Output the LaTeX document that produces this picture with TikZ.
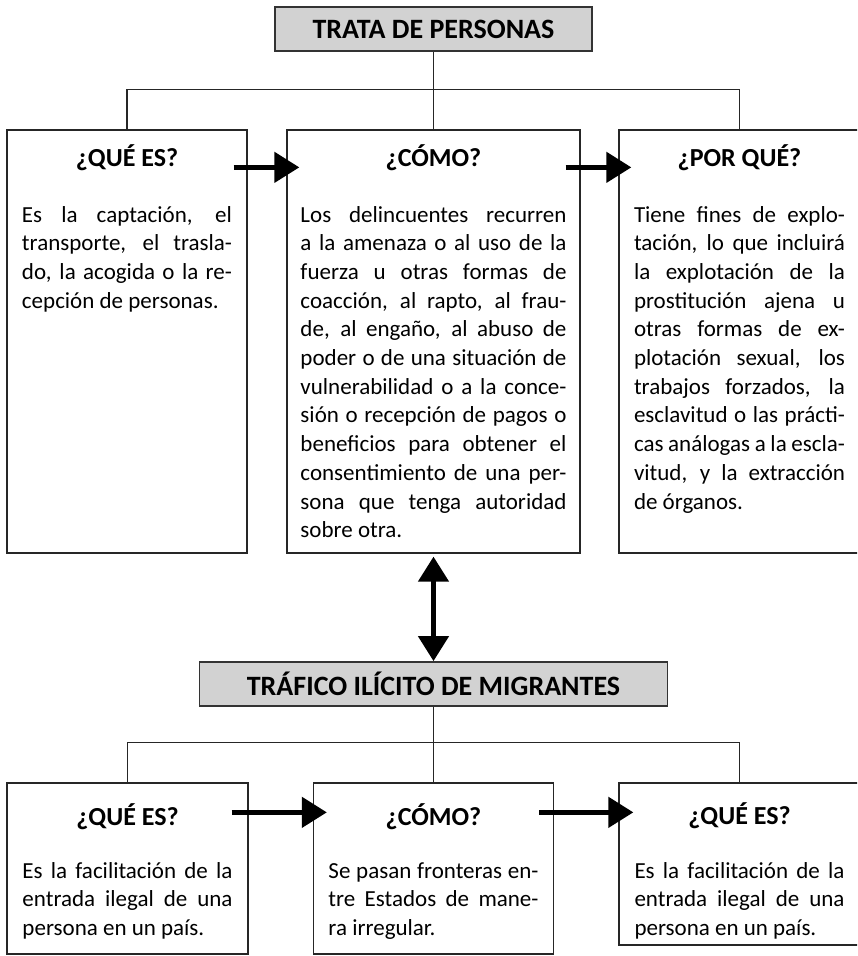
\documentclass[tikz,border=0pt]{standalone}
\usepackage{fontspec}
\setmainfont{Carlito}
\usetikzlibrary{calc, arrows.meta, positioning}
\tolerance=10000
\tikzset{
    shapenode/.style = {draw=black!85, line width=1.3pt, rectangle, fill=none, node distance=0em, inner sep=0em},
    titlenode/.style = {draw=black!80, line width=1.8pt, rectangle, fill=gray!35, node distance=0em,
      inner sep=0em, font=\fontsize{28}{32}\bfseries},
    textnode/.style  = {draw=none, fill=none, rectangle, inner sep=0em, node distance=0em, font=\fontsize{26}{30}\bfseries},
    bodynode/.style  = {draw=none, fill=none, inner sep=0em, align=justify,
      font=\fontsize{23}{28.7}\selectfont},
    connect/.style = {black!85, line width=1.2pt},
    bigarrow/.style = {black, line width=4.7pt, -{Triangle[length=25pt, width=30pt]}},
    dblarrow/.style = {black, line width=4.7pt, {Triangle[length=25pt, width=30pt]}-{Triangle[length=25pt, width=30pt]}}
}
\begin{document}
\begin{tikzpicture}[x=1pt, y=1pt]
    \clip (-433.5,29) rectangle (423.5,-927);

    \node [titlenode, name=Trata, minimum width=317pt, minimum height=44pt] {TRATA DE PERSONAS};

    \node [shapenode, name=QueEs, below of=Trata, xshift=-306.5pt, yshift=-312.5pt, minimum width=240pt, minimum height=423pt] {};
    \node [shapenode, name=Como, below of=Trata, yshift=-312.5pt, minimum width=293pt, minimum height=423pt] {};
    \node [shapenode, name=PorQue, below of=Trata, xshift=306pt, yshift=-312.5pt, minimum width=241pt, minimum height=423pt] {};
    \draw [connect] (Trata.south) -- (Como.north);
    \draw [connect] (QueEs.north) -- ++(0,40pt) -| (PorQue.north);

    \node [textnode, name=QueEsHead, above of=QueEs, yshift=184pt] {¿QUÉ ES?};
    \node [textnode, name=ComoHead, above of=Como, yshift=184pt] {¿CÓMO?};
    \node [textnode, name=PorQueHead, above of=PorQue, yshift=184pt] {¿POR QUÉ?};

    \node [bodynode, name=QueEsText, text width=210pt, below=72.4pt of QueEs.north] {\strut Es la captación, el\linebreak
      transporte, el trasla-\linebreak do, la acogida o la re-\linebreak cepción de personas.};
    \node [bodynode, name=ComoText, text width=266pt, below=72.4pt of Como.north] {\strut Los delincuentes recurren\linebreak
      a la amenaza o al uso de la\linebreak fuerza u otras formas de\linebreak coacción, al rapto, al frau-\linebreak
      de, al engaño, al abuso de\linebreak poder o de una situación de\linebreak vulnerabilidad o a la conce-\linebreak
      sión o recepción de pagos o\linebreak beneficios para obtener el\linebreak consentimiento de una per-\linebreak
      sona que tenga autoridad\linebreak sobre otra.};
    \node [bodynode, name=PorQueText, text width=211pt, below=72.4pt of PorQue.north] {\strut Tiene fines de explo-\linebreak
      tación, lo que incluirá\linebreak la explotación de la\linebreak prostitución ajena u\linebreak
      otras formas de ex-\linebreak plotación sexual, los\linebreak trabajos forzados, la\linebreak
      esclavitud o las prácti-\linebreak cas análogas a la escla-\linebreak vitud, y la extracción\linebreak de órganos.};

    \draw ($(QueEs.north east)+(-14pt,-38pt)$) edge[bigarrow] ($(Como.north west)+(13pt,-38pt)$);
    \draw ($(Como.north east)+(-15pt,-38pt)$) edge[bigarrow] ($(PorQue.north west)+(13pt,-38pt)$);

    \node [titlenode, name=Trafico, below of=Trata, yshift=-655pt, minimum width=468pt, minimum height=44pt] {TRÁFICO ILÍCITO DE MIGRANTES};
    \draw [shorten <=3pt] (Como.south) edge[dblarrow] (Trafico.north);

    \node [shapenode, name=QueEsB, below of=Trata, xshift=-306pt, yshift=-839.5pt, minimum width=241pt, minimum height=171pt] {};
    \node [shapenode, name=ComoB, below of=Trata, yshift=-839.5pt, minimum width=240pt, minimum height=171pt] {};
    \node [shapenode, name=QueEsC, below of=Trata, xshift=306pt, yshift=-835pt, minimum width=241pt, minimum height=162pt] {};
    \draw [connect] (Trafico.south) -- (ComoB.north);
    \draw [connect] (QueEsB.north) -- ++(0,40pt) -| (QueEsC.north);

    \node [textnode, name=QueEsBHead, above of=QueEsB, yshift=52pt] {¿QUÉ ES?};
    \node [textnode, name=ComoBHead, above of=ComoB, yshift=52pt] {¿CÓMO?};
    \node [textnode, name=QueEsCHead, above of=QueEsC, yshift=48pt] {¿QUÉ ES?};

    \node [bodynode, name=QueEsBText, text width=210pt, below=75.4pt of QueEsB.north] {\strut Es la facilitación de la\linebreak
      entrada ilegal de una\linebreak persona en un país.};
    \node [bodynode, name=ComoBText, text width=210pt, below=75.4pt of ComoB.north] {\strut Se pasan fronteras en-\linebreak
      tre Estados de mane-\linebreak ra irregular.};
    \node [bodynode, name=QueEsCText, text width=210pt, below=75.4pt of QueEsC.north] {\strut Es la facilitación de la\linebreak
      entrada ilegal de una\linebreak persona en un país.};

    \draw ($(QueEsB.north east)+(-17pt,-30pt)$) edge[bigarrow] ($(ComoB.north west)+(14pt,-30pt)$);
    \draw ($(ComoB.north east)+(-15pt,-30pt)$) edge[bigarrow] ($(QueEsC.north west)+(15pt,-30pt)$);
\end{tikzpicture}
\end{document}
